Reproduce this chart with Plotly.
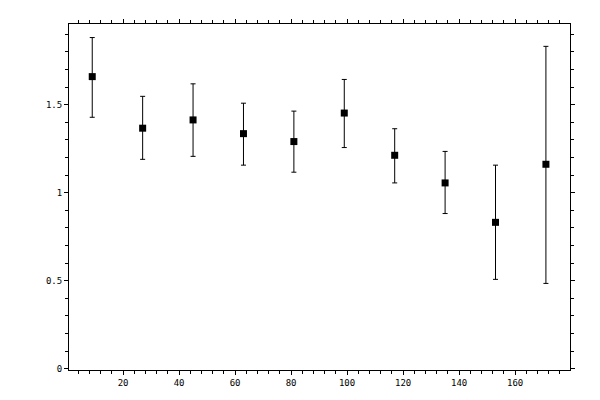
import plotly.graph_objects as go

x_vals = [9, 27, 45, 63, 81, 99, 117, 135, 153, 171]
y_vals = [1.660, 1.367, 1.414, 1.336, 1.291, 1.453, 1.213, 1.056, 0.832, 1.162]
y_high = [1.882, 1.548, 1.619, 1.509, 1.464, 1.644, 1.364, 1.235, 1.157, 1.832]
y_low = [1.429, 1.190, 1.207, 1.157, 1.117, 1.257, 1.056, 0.882, 0.508, 0.485]

err_plus = [h - y for h, y in zip(y_high, y_vals)]
err_minus = [y - l for l, y in zip(y_low, y_vals)]

x_range = [0.7, 179.6]
y_range = [-0.007, 1.959]

fig = go.Figure()

fig.add_trace(go.Scatter(
    x=x_vals,
    y=y_vals,
    mode='markers',
    marker=dict(symbol='square', size=7, color='black'),
    error_y=dict(type='data', symmetric=False, array=err_plus, arrayminus=err_minus,
                 color='black', thickness=1, width=2.5),
    showlegend=False,
))

axis_common = dict(
    showgrid=False,
    zeroline=False,
    showline=True,
    linecolor='black',
    linewidth=1,
    mirror='ticks',
    tickcolor='black',
    tickwidth=1,
)

# page body has an 8px margin, so the figure is shrunk and shifted to compensate
fig.update_layout(
    width=592,
    height=392,
    margin=dict(l=61, r=30, t=11, b=30),
    plot_bgcolor='white',
    paper_bgcolor='white',
    font=dict(family='DejaVu Sans Mono', size=9, color='black'),
    xaxis=dict(
        **axis_common,
        range=x_range,
        tick0=0, dtick=20,
        ticks='outside', ticklen=4,
        minor=dict(dtick=4, ticks='outside', ticklen=3, tickcolor='black'),
    ),
    yaxis=dict(
        **axis_common,
        range=y_range,
        tick0=0, dtick=0.5,
        ticks='outside', ticklen=4,
        minor=dict(dtick=0.1, ticks='outside', ticklen=3, tickcolor='black'),
    ),
    # overlay axes for the inward half of the major ticks
    xaxis2=dict(
        **axis_common,
        overlaying='x',
        range=x_range,
        tick0=0, dtick=20,
        ticks='inside', ticklen=4,
        showticklabels=False,
    ),
    yaxis2=dict(
        **axis_common,
        overlaying='y',
        range=y_range,
        tick0=0, dtick=0.5,
        ticks='inside', ticklen=4,
        showticklabels=False,
    ),
)

fig.write_html("out.html")
